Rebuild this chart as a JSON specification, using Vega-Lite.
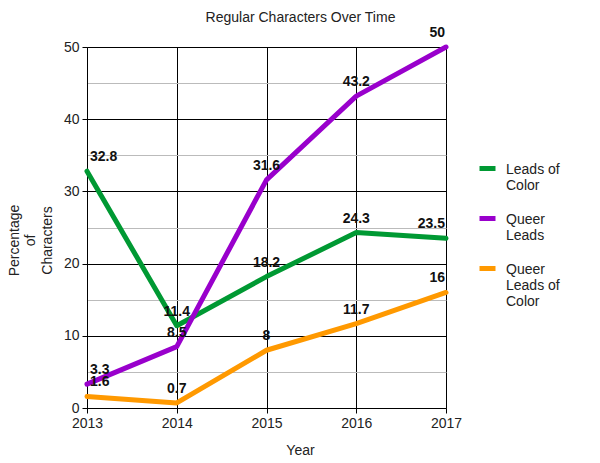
{
  "$schema": "https://vega.github.io/schema/vega-lite/v6.json",
  "autosize": "none",
  "width": 359,
  "height": 361,
  "padding": {"left": 87, "top": 47, "right": 154, "bottom": 55},
  "background": "white",
  "config": {
    "view": {"stroke": null},
    "font": "Liberation Sans",
    "axis": {"labelFont": "Liberation Sans", "titleFont": "Liberation Sans"}
  },
  "title": {
    "text": "Regular Characters Over Time",
    "font": "Liberation Sans",
    "fontSize": 14,
    "fontWeight": "normal",
    "color": "#222",
    "anchor": "middle",
    "dx": 34,
    "offset": 1
  },
  "data": {
    "values": [
      {"Year": "2013", "Series": "Leads of Color", "Pct": 32.8},
      {"Year": "2014", "Series": "Leads of Color", "Pct": 11.4},
      {"Year": "2015", "Series": "Leads of Color", "Pct": 18.2},
      {"Year": "2016", "Series": "Leads of Color", "Pct": 24.3},
      {"Year": "2017", "Series": "Leads of Color", "Pct": 23.5},
      {"Year": "2013", "Series": "Queer Leads", "Pct": 3.3},
      {"Year": "2014", "Series": "Queer Leads", "Pct": 8.5},
      {"Year": "2015", "Series": "Queer Leads", "Pct": 31.6},
      {"Year": "2016", "Series": "Queer Leads", "Pct": 43.2},
      {"Year": "2017", "Series": "Queer Leads", "Pct": 50},
      {"Year": "2013", "Series": "Queer Leads of Color", "Pct": 1.6},
      {"Year": "2014", "Series": "Queer Leads of Color", "Pct": 0.7},
      {"Year": "2015", "Series": "Queer Leads of Color", "Pct": 8},
      {"Year": "2016", "Series": "Queer Leads of Color", "Pct": 11.7},
      {"Year": "2017", "Series": "Queer Leads of Color", "Pct": 16}
    ]
  },
  "encoding": {
    "x": {
      "field": "Year",
      "type": "ordinal",
      "scale": {"type": "point", "padding": 0},
      "axis": {
        "title": "Year",
        "titleFontSize": 14,
        "titleFontWeight": "normal",
        "titleColor": "#222",
        "titleX": 213,
        "titleY": 42,
        "titleBaseline": "middle",
        "labelAngle": 0,
        "labelFontSize": 14,
        "labelColor": "#222",
        "labelPadding": 3,
        "domainColor": "black",
        "tickColor": "black",
        "tickSize": 5,
        "grid": true,
        "gridColor": "black",
        "gridOpacity": 1
      }
    },
    "y": {
      "field": "Pct",
      "type": "quantitative",
      "scale": {"domain": [0, 50], "nice": false},
      "axis": {
        "title": ["Percentage", "of", "Characters"],
        "titleAngle": 270,
        "titleAlign": "center",
        "titleBaseline": "middle",
        "titleLineHeight": 16.5,
        "titleX": -73,
        "titleY": 193,
        "titleFontSize": 14,
        "titleFontWeight": "normal",
        "titleColor": "#222",
        "values": [0, 5, 10, 15, 20, 25, 30, 35, 40, 45, 50],
        "labelExpr": "datum.value % 10 === 0 ? datum.label : ''",
        "labelFontSize": 14,
        "labelColor": "#222",
        "labelPadding": 3,
        "domainColor": "black",
        "tickColor": "black",
        "tickSize": 5,
        "tickOpacity": {"condition": {"test": "datum.value % 10 === 0", "value": 1}, "value": 0},
        "grid": true,
        "gridColor": {"condition": {"test": "datum.value % 10 === 0", "value": "black"}, "value": "#bbbbbb"},
        "gridOpacity": 1
      }
    }
  },
  "layer": [
    {
      "mark": {"type": "line", "strokeWidth": 5, "strokeCap": "round", "strokeJoin": "round"},
      "encoding": {
        "color": {
          "field": "Series",
          "type": "nominal",
          "scale": {
            "domain": ["Leads of Color", "Queer Leads", "Queer Leads of Color"],
            "range": ["#009933", "#9900cc", "#ff9900"]
          },
          "legend": {
            "title": null,
            "orient": "none",
            "legendX": 390,
            "legendY": 111,
            "symbolType": "stroke",
            "symbolSize": 256,
            "symbolStrokeWidth": 5,
            "labelFontSize": 14,
            "labelColor": "#222",
            "labelLineHeight": 16,
            "labelBaseline": "alphabetic",
            "labelOffset": 8,
            "rowPadding": 15,
            "labelExpr": "datum.label === 'Leads of Color' ? ['Leads of', 'Color'] : datum.label === 'Queer Leads' ? ['Queer', 'Leads'] : ['Queer', 'Leads of', 'Color']",
            "encode": {"labels": {"update": {"dy": {"value": 5}}}}
          }
        }
      }
    },
    {
      "transform": [{"filter": "datum.Year === '2013'"}],
      "mark": {"type": "text", "align": "left", "baseline": "alphabetic", "dx": 3, "dy": -10, "fontSize": 14, "fontWeight": "bold", "color": "#111"},
      "encoding": {"text": {"field": "Pct", "type": "quantitative"}}
    },
    {
      "transform": [{"filter": "datum.Year !== '2013' && datum.Year !== '2017'"}],
      "mark": {"type": "text", "align": "center", "baseline": "alphabetic", "dy": -10, "fontSize": 14, "fontWeight": "bold", "color": "#111"},
      "encoding": {"text": {"field": "Pct", "type": "quantitative"}}
    },
    {
      "transform": [{"filter": "datum.Year === '2017'"}],
      "mark": {"type": "text", "align": "right", "baseline": "alphabetic", "dx": -1, "dy": -10, "fontSize": 14, "fontWeight": "bold", "color": "#111"},
      "encoding": {"text": {"field": "Pct", "type": "quantitative"}}
    }
  ]
}
